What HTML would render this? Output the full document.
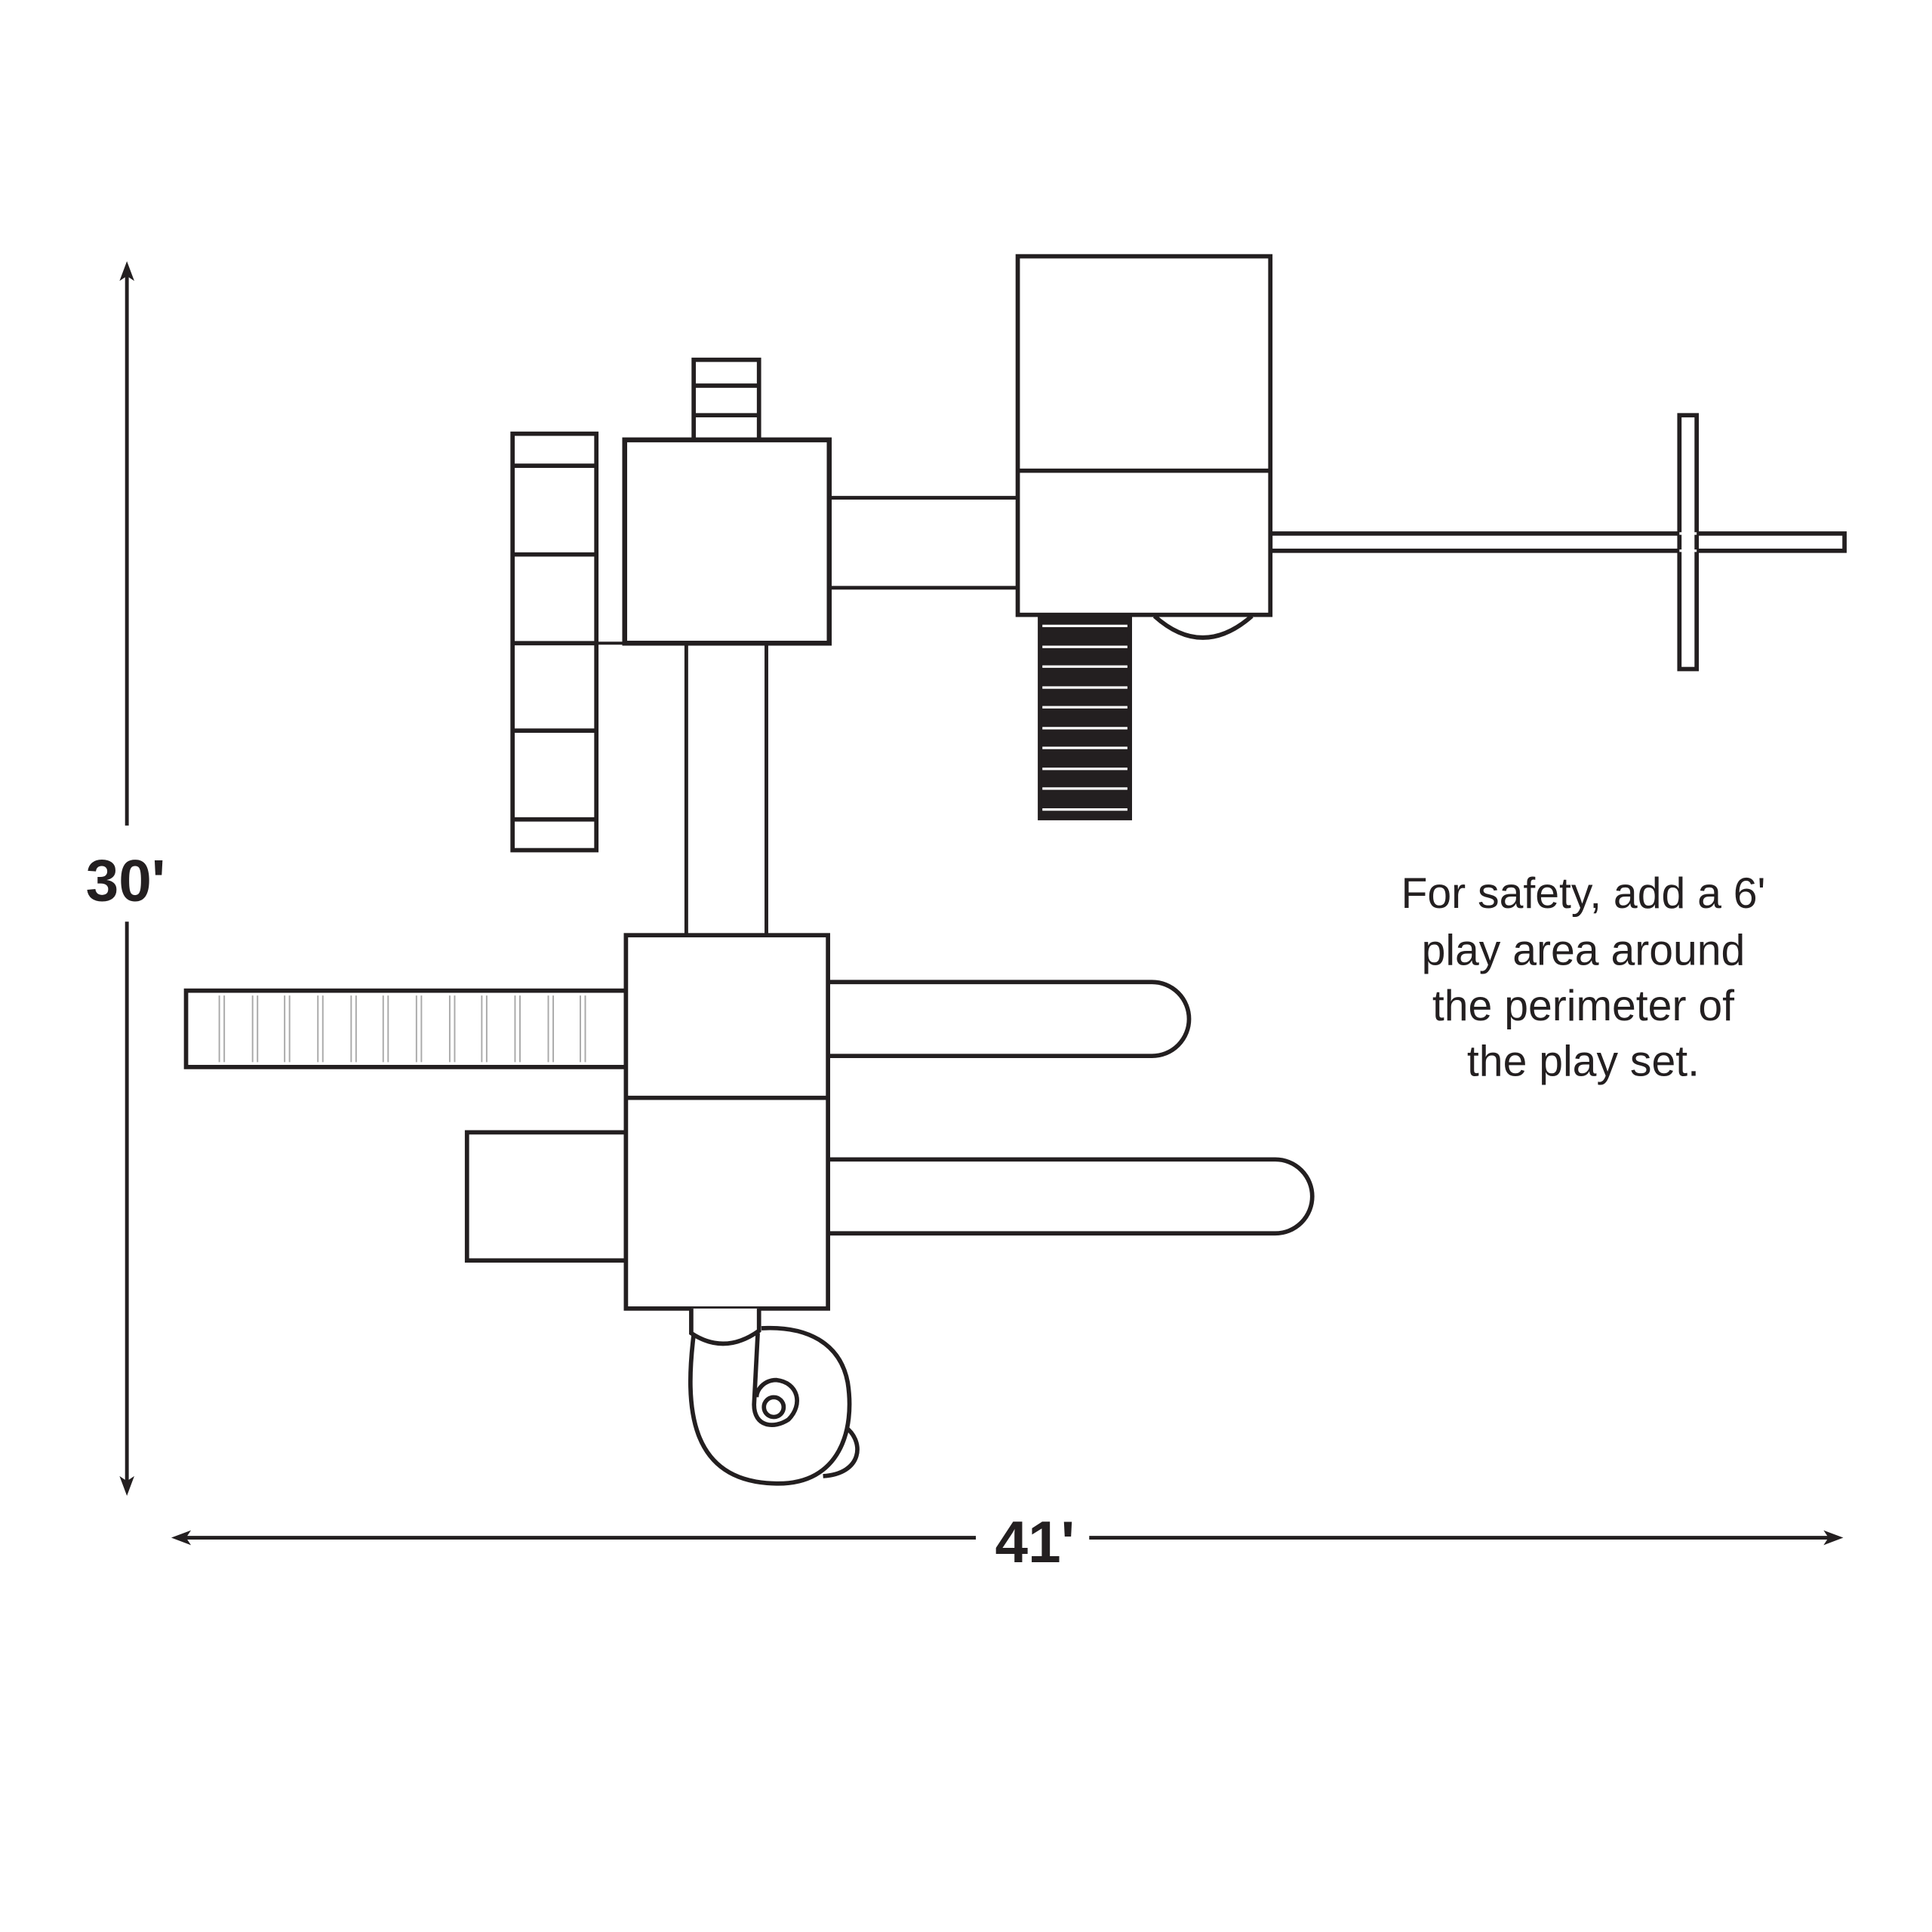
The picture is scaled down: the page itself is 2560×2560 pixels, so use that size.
<!DOCTYPE html>
<html><head><meta charset="utf-8"><style>html,body{margin:0;padding:0;background:#fff}svg{display:block}</style></head>
<body>
<svg width="2560" height="2560" viewBox="0 0 1568 1568" xmlns="http://www.w3.org/2000/svg">
<g fill="none" stroke="#231f20" stroke-width="3.5">
<line x1="103" y1="222" x2="103" y2="670" stroke-width="3"/>
<line x1="103" y1="748" x2="103" y2="1204" stroke-width="3"/>
<line x1="148" y1="1248" x2="792" y2="1248" stroke-width="3"/>
<line x1="884" y1="1248" x2="1487" y2="1248" stroke-width="3"/>
</g>
<g fill="#231f20">
<path d="M103,212 L97,228 L103,224 L109,228 Z"/>
<path d="M103,1214 L97,1198 L103,1202 L109,1198 Z"/>
<path d="M139,1248 L155,1242 L151,1248 L155,1254 Z"/>
<path d="M1496,1248 L1480,1242 L1484,1248 L1480,1254 Z"/>
</g>
<g font-family="'Liberation Sans',sans-serif" fill="#231f20">
<text x="102" y="731" font-size="48" font-weight="bold" text-anchor="middle">30'</text>
<text x="840" y="1268" font-size="48" font-weight="bold" text-anchor="middle">41'</text>
<g font-size="35" text-anchor="middle">
<text x="1285" y="737">For safety, add a 6'</text>
<text x="1285" y="783">play area around</text>
<text x="1285" y="828">the perimeter of</text>
<text x="1285" y="873">the play set.</text>
</g>
</g>
<g fill="#fff" stroke="#231f20" stroke-width="3.5">
<rect x="844" y="499" width="73" height="165" fill="#231f20"/>
<rect x="416" y="352" width="68" height="338"/>
<line x1="416" y1="378" x2="484" y2="378"/><line x1="416" y1="450" x2="484" y2="450"/>
<line x1="416" y1="522" x2="484" y2="522"/><line x1="416" y1="593" x2="484" y2="593"/>
<line x1="416" y1="665" x2="484" y2="665"/>
<line x1="484" y1="522" x2="507" y2="522" stroke-width="2.5"/>
<rect x="563" y="292" width="53" height="65"/>
<line x1="563" y1="313" x2="616" y2="313"/><line x1="563" y1="337" x2="616" y2="337"/>
<line x1="557" y1="522" x2="557" y2="759" stroke-width="3"/>
<line x1="622" y1="522" x2="622" y2="759" stroke-width="3"/>
<rect x="507" y="357" width="166" height="165" stroke-width="4"/>
<line x1="673" y1="404" x2="826" y2="404" stroke-width="3"/>
<line x1="673" y1="477" x2="826" y2="477" stroke-width="3"/>
<rect x="1031" y="433" width="466" height="14"/>
<rect x="1363" y="337" width="14" height="206"/>
<line x1="1363" y1="433" x2="1377" y2="433" stroke="#fff" stroke-width="2"/>
<line x1="1363" y1="447" x2="1377" y2="447" stroke="#fff" stroke-width="2"/>
<path d="M937,500 Q976,535 1016,500"/>
<rect x="826" y="208" width="205" height="291"/>
<line x1="826" y1="382" x2="1031" y2="382"/>
<path d="M672,797 H935 A30,30 0 0 1 935,857 H672"/>
<path d="M672,941 H1035 A30,30 0 0 1 1035,1001 H672"/>
<rect x="151" y="804" width="357" height="62"/>
<rect x="379" y="919" width="129" height="104"/>
<rect x="508" y="759" width="164" height="303"/>
<line x1="508" y1="891" x2="672" y2="891"/>
<path d="M686,1158 C702,1170 700,1196 668,1198"/>
<path d="M563,1083 C556,1140 558,1203 630,1204 C682,1205 694,1160 688,1122 C682,1090 655,1076 618,1078"/>
<path d="M561,1062 V1082 Q588,1100 616,1080 V1062"/>
<path d="M615,1082 L612,1140 C612,1158 628,1160 640,1152 C652,1140 648,1122 630,1120 C620,1120 614,1128 614,1134"/>
<circle cx="628" cy="1142" r="8"/>
</g>
<g fill="#fff">
<rect x="846" y="507" width="69" height="2"/><rect x="846" y="524" width="69" height="2"/>
<rect x="846" y="540" width="69" height="2"/><rect x="846" y="557" width="69" height="2"/>
<rect x="846" y="573" width="69" height="2"/><rect x="846" y="590" width="69" height="2"/>
<rect x="846" y="606" width="69" height="2"/><rect x="846" y="623" width="69" height="2"/>
<rect x="846" y="639" width="69" height="2"/><rect x="846" y="656" width="69" height="2"/>
</g>
<g stroke="#aaa" stroke-width="1.2">
<path d="M178,808V862M182,808V862M205,808V862M209,808V862M231,808V862M235,808V862M258,808V862M262,808V862M285,808V862M289,808V862M311,808V862M315,808V862M338,808V862M342,808V862M365,808V862M369,808V862M391,808V862M395,808V862M418,808V862M422,808V862M445,808V862M449,808V862M471,808V862M475,808V862"/>
</g>
</svg>
</body></html>
